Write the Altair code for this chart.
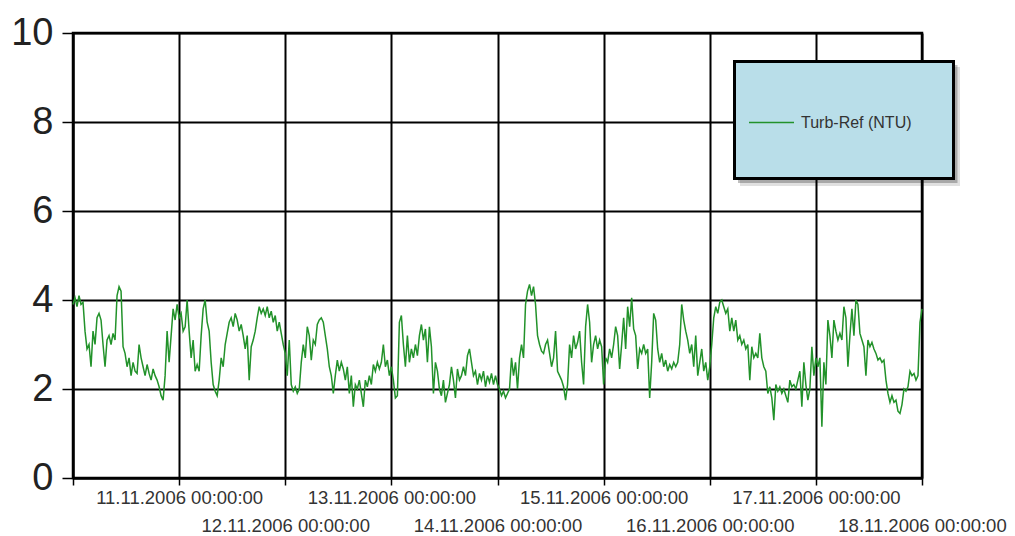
import altair as alt
import pandas as pd

# ---- data ----
series_name = "Turb-Ref (NTU)"
start_time = "2006-11-10 00:00:00"
end_time = "2006-11-18 00:00:00"
x_tick_days = [10, 11, 12, 13, 14, 15, 16, 17, 18]
y_ticks = [0, 2, 4, 6, 8, 10]

turb_values = [
    3.9, 4.05, 3.85, 4.1, 3.9, 3.95, 3.3, 2.9, 3.0, 2.5,
    3.3, 3.0, 3.6, 3.7, 3.55, 3.0, 2.5, 3.1, 3.2, 3.0,
    3.25, 3.1, 4.1, 4.3, 4.2, 2.95, 2.8, 2.5, 2.7, 2.3,
    2.6, 2.4, 2.35, 3.0, 2.7, 2.5, 2.3, 2.55, 2.35, 2.2,
    2.45, 2.3, 2.2, 2.05, 1.85, 1.75, 2.3, 3.3, 2.6, 3.2,
    3.8, 3.55, 3.9, 3.6, 3.7, 3.3, 3.4, 4.0, 3.3, 2.7,
    3.1, 2.4, 2.55, 2.4, 3.2, 3.8, 4.0, 3.5, 3.3, 2.6,
    2.1, 1.95, 1.85, 2.2, 2.7, 2.5, 3.0, 3.25, 3.5, 3.6,
    3.4, 3.7, 3.55, 3.3, 3.45, 3.2, 2.9, 3.2, 2.2, 2.95,
    3.1, 3.3, 3.6, 3.85, 3.7, 3.8, 3.65, 3.85, 3.6, 3.75,
    3.5, 3.65, 3.3, 3.5, 3.25, 3.0, 2.8, 2.3, 3.1, 2.1,
    1.95, 2.05, 1.9, 2.0, 2.6, 3.0, 2.7, 3.4, 3.2, 2.65,
    3.1, 3.0, 3.45, 3.55, 3.6, 3.5, 3.2, 2.9, 2.5, 2.3,
    1.9, 2.3, 2.65, 2.4, 2.6, 2.45, 2.2, 2.5, 1.9, 2.3,
    1.6, 2.1, 2.0, 2.2, 1.9, 1.6, 2.2, 2.05, 2.3, 2.1,
    2.55, 2.4, 2.6, 2.45, 2.6, 3.0, 2.5, 2.65, 2.3, 2.5,
    2.2, 1.8, 1.85, 3.5, 3.65, 3.0, 2.5, 3.2, 2.6, 2.9,
    2.7, 3.0, 2.75, 3.2, 3.45, 3.1, 3.35, 2.6, 3.4, 2.95,
    1.9, 2.6, 2.4, 2.0, 1.85, 2.2, 1.7, 1.9, 2.1, 2.5,
    2.2, 1.8, 2.45, 2.2, 2.3, 2.5, 2.3, 2.75, 2.9, 2.6,
    2.3, 2.4, 2.1, 2.35, 2.2, 2.4, 2.05, 2.3, 2.15, 2.35,
    2.1, 2.3, 2.1, 2.0, 1.85, 1.95, 1.8, 1.9, 2.0, 2.7,
    2.3, 2.6, 2.0, 2.7, 3.0, 2.7, 3.9, 4.2, 4.35, 4.1,
    4.3, 3.9, 3.2, 3.0, 2.85, 2.8, 3.0, 3.1, 2.8, 2.5,
    2.7, 3.3, 2.4, 2.3, 2.2, 2.05, 1.75, 2.1, 3.0, 2.7,
    3.2, 2.9, 3.05, 3.3, 2.6, 2.1, 3.4, 3.9, 3.5, 2.6,
    3.0, 3.2, 2.9, 3.1, 2.95, 2.1, 2.7, 2.6, 2.9, 2.7,
    3.0, 3.4, 3.2, 2.45, 3.0, 3.6, 2.9, 3.85, 3.4, 4.05,
    3.35, 3.2, 2.45, 2.9, 2.8, 3.0, 2.8, 2.9, 1.8, 2.6,
    3.7, 3.55, 2.9, 2.6, 2.8, 2.5, 2.65, 2.4, 2.55, 2.45,
    2.6, 2.5, 2.6, 3.0, 3.9, 3.55, 3.3, 3.1, 2.8, 3.0,
    2.5, 3.2, 2.3, 2.6, 2.9, 2.4, 2.6, 2.2, 2.5, 3.0,
    3.6, 3.85, 3.7, 3.95, 4.0, 3.85, 3.7, 3.8, 3.3, 3.6,
    3.3, 3.55, 3.1, 3.2, 3.0, 3.1, 2.9, 3.0, 2.2, 2.95,
    2.7, 2.8, 2.7, 3.25, 2.7, 2.5, 2.4, 1.9, 2.05, 1.8,
    1.3, 2.1, 1.95, 2.05, 1.9, 2.0, 1.85, 1.7, 2.2, 2.05,
    2.1, 2.0, 2.2, 2.4, 1.6, 2.6, 2.1, 1.75, 2.0, 2.95,
    2.3, 2.7, 2.5, 2.7, 1.15, 2.6, 2.1, 3.55, 3.2, 2.7,
    3.55, 3.3, 3.1, 3.25, 3.1, 3.85, 3.6, 2.5, 3.2, 3.8,
    3.2, 4.0, 3.9, 3.25, 3.1, 2.95, 2.3, 3.1, 2.95, 3.05,
    2.9, 2.8, 2.65, 2.7, 2.6, 2.65, 2.2, 1.9, 1.7, 1.85,
    1.7, 1.75, 1.5, 1.45, 1.65, 2.0, 1.95, 2.05, 2.4, 2.3,
    2.35, 2.2, 2.3, 3.5, 3.8,
]

# logger timestamps: evenly spaced samples over the shown period
times = pd.date_range(start_time, end_time, periods=len(turb_values))
df = pd.DataFrame({"time": times, "value": turb_values, "series": series_name})

W, H = 849, 445
FONT = "Liberation Sans"

x_domain = [alt.DateTime(year=2006, month=11, date=10), alt.DateTime(year=2006, month=11, date=18)]
x_values = [alt.DateTime(year=2006, month=11, date=d) for d in x_tick_days]

fmt = "timeFormat(datum.value, '%d.%m.%Y %H:%M:%S')"
label_expr = (
    f"date(datum.value) == 10 ? '' : (date(datum.value) % 2 == 1 ? {fmt} : ['', {fmt}])"
)

line = alt.Chart(df).mark_line(strokeWidth=1.5).encode(
    x=alt.X(
        "time:T",
        scale=alt.Scale(domain=x_domain, nice=False),
        axis=alt.Axis(
            values=x_values,
            labelExpr=label_expr,
            title=None,
            labelAngle=0,
            labelFont=FONT,
            labelFontSize=18.5,
            labelColor="#333333",
            labelPadding=3,
            labelLineHeight=28,
            labelOverlap=False,
            labelBound=False,
            labelFlush=False,
            tickSize=7,
            tickColor="black",
            tickWidth=1.5,
            domainColor="black",
            domainWidth=2,
            grid=True,
            gridColor="black",
            gridWidth=2,
            gridOpacity=1,
        ),
    ),
    y=alt.Y(
        "value:Q",
        scale=alt.Scale(domain=[0, 10], nice=False),
        axis=alt.Axis(
            values=y_ticks,
            title=None,
            labelFont=FONT,
            labelFontSize=38,
            labelColor="#222222",
            labelPadding=9,
            tickSize=11,
            tickColor="black",
            tickWidth=1.5,
            domainColor="black",
            domainWidth=2,
            grid=True,
            gridColor="black",
            gridWidth=2,
            gridOpacity=1,
        ),
    ),
    color=alt.Color(
        "series:N",
        scale=alt.Scale(range=["#22922a"]),
        legend=alt.Legend(
            title=None,
            orient="none",
            legendX=675,
            legendY=66,
            symbolType="stroke",
            symbolSize=2025,
            symbolStrokeWidth=1.5,
            labelFont=FONT,
            labelFontSize=16,
            labelColor="#333333",
            labelOffset=6,
            padding=0,
        ),
    ),
)

box_data = alt.Data(values=[{"k": 1}])

shadow2 = alt.Chart(box_data).mark_rect(fill="#000000", opacity=0.12).encode(
    x=alt.value(667), x2=alt.value(887), y=alt.value(34), y2=alt.value(153)
)
shadow1 = alt.Chart(box_data).mark_rect(fill="#000000", opacity=0.25).encode(
    x=alt.value(665), x2=alt.value(884.5), y=alt.value(32), y2=alt.value(150)
)
box = alt.Chart(box_data).mark_rect(
    fill="#b9dee9", stroke="black", strokeWidth=3
).encode(
    x=alt.value(661.5), x2=alt.value(880.5), y=alt.value(28.5), y2=alt.value(145.5)
)

chart = alt.layer(shadow2, shadow1, box, line).properties(
    width=W,
    height=H,
    autosize=alt.AutoSizeParams(type="none"),
    padding={"left": 65, "top": 25, "right": 85, "bottom": 56},
    background="white",
).configure_view(stroke="black", strokeWidth=2.5)

chart.save("out.html", embed_options={"renderer": "svg", "actions": False})
